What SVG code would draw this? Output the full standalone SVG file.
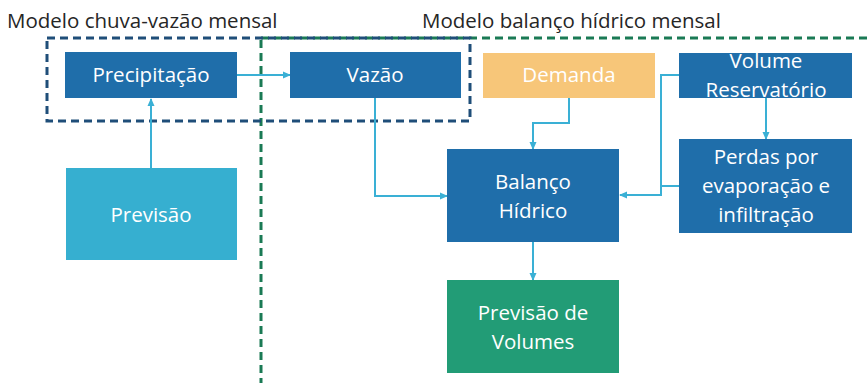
<svg xmlns="http://www.w3.org/2000/svg" width="868" height="383" viewBox="0 0 868 383">
<defs>
<marker id="arr" markerWidth="8" markerHeight="8" refX="7" refY="4" orient="auto" markerUnits="userSpaceOnUse">
<path d="M0,0.5 L8,4 L0,7.5 Z" fill="#3ab0d5"/>
</marker>
</defs>
<style>
.t{font-family:"Open Sans","Liberation Sans",sans-serif;font-size:20.5px;fill:#ffffff;text-anchor:middle}
.h{font-family:"Open Sans","Liberation Sans",sans-serif;font-size:20.5px;fill:#262626}
.blue{fill:#1f6eaa}
.c{fill:none;stroke:#3ab0d5;stroke-width:2;marker-end:url(#arr)}
.cn{fill:none;stroke:#3ab0d5;stroke-width:2}
</style>
<rect width="868" height="383" fill="#ffffff"/>
<g id="titles">
<text class="h" x="7" y="28">Modelo chuva-vazão mensal</text>
<text class="h" x="422" y="28">Modelo balanço hídrico mensal</text>
</g>
<g id="groups">
<rect x="261" y="38" width="620" height="360" fill="none" stroke="#1a7a55" stroke-width="3" stroke-dasharray="8,5"/>
<rect x="47" y="38" width="423" height="83" fill="none" stroke="#1f4e79" stroke-width="3" stroke-dasharray="8,5"/>
</g>
<g id="connectors">
<path class="c" d="M237,75 H290"/>
<path class="c" d="M151,168 V99"/>
<path class="c" d="M375,98 V196 H447"/>
<path class="c" d="M569,98 V123 H533 V149"/>
<path class="c" d="M679,75 H661 V195 H620"/>
<path class="cn" d="M679,186 H661"/>
<path class="c" d="M766,98 V139"/>
<path class="c" d="M533,242 V280"/>
</g>
<g id="precipitacao">
<rect class="blue" x="65" y="52" width="172" height="46"/>
<text class="t" x="151" y="82">Precipitação</text>
</g>
<g id="vazao">
<rect class="blue" x="290" y="52" width="171" height="46"/>
<text class="t" x="375" y="82">Vazão</text>
</g>
<g id="previsao">
<rect x="66" y="168" width="171" height="92" fill="#36afd0"/>
<text class="t" x="151" y="222">Previsão</text>
</g>
<g id="demanda">
<rect x="483" y="53" width="172" height="45" fill="#f7c679"/>
<text class="t" x="569" y="82">Demanda</text>
</g>
<g id="volume">
<rect class="blue" x="679" y="53" width="173" height="45"/>
<text class="t" x="766" y="68">Volume</text>
<text class="t" x="766" y="97">Reservatório</text>
</g>
<g id="perdas">
<rect class="blue" x="679" y="139" width="173" height="94"/>
<text class="t" x="766" y="164">Perdas por</text>
<text class="t" x="766" y="193">evaporação e</text>
<text class="t" x="766" y="222">infiltração</text>
</g>
<g id="balanco">
<rect class="blue" x="447" y="149" width="172" height="93"/>
<text class="t" x="533" y="189">Balanço</text>
<text class="t" x="533" y="218">Hídrico</text>
</g>
<g id="previsao-volumes">
<rect x="447" y="280" width="172" height="93" fill="#229c76"/>
<text class="t" x="533" y="320">Previsão de</text>
<text class="t" x="533" y="349">Volumes</text>
</g>
</svg>
